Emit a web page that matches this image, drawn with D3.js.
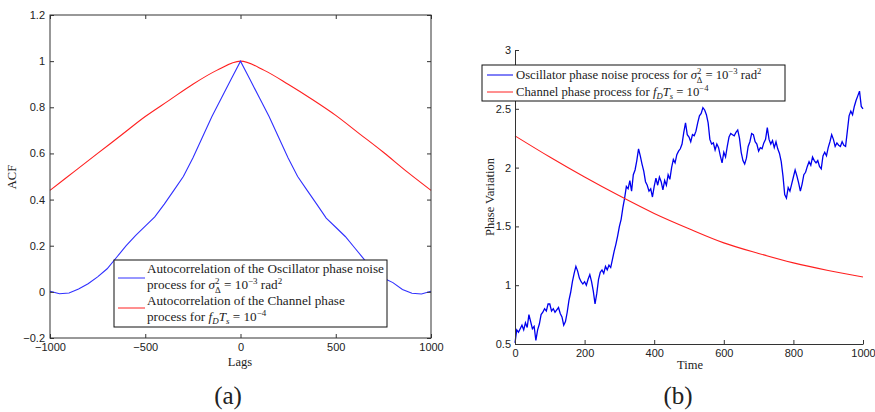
<!DOCTYPE html>
<html>
<head>
<meta charset="utf-8">
<script src="https://cdn.jsdelivr.net/npm/d3@7"></script>
<style>
  body { margin: 0; background: #fff; }
  .tick text { font-family: "Liberation Sans", Arial, sans-serif; font-size: 11px; fill: #222; }
  .tick line, .domain { stroke: #333; }
  .serif { font-family: "Liberation Serif", "Times New Roman", serif; fill: #222; }
</style>
</head>
<body>
<svg id="chart" width="875" height="412"></svg>
<script>
// ---- (a) autocorrelation data ----
const acfLags = [-1000, -950, -900, -850, -800, -750, -700, -650, -600, -550, -500, -450, -400, -350, -300, -250, -200, -150, -100, -50,
  0, 50, 100, 150, 200, 250, 300, 350, 400, 450, 500, 550, 600, 650, 700, 750, 800, 850, 900, 950, 1000];
const oscAcf = [0.003, -0.008, -0.005, 0.012, 0.035, 0.065, 0.10, 0.15, 0.20, 0.245, 0.285, 0.325, 0.38, 0.44, 0.50, 0.58, 0.67, 0.76, 0.84, 0.92,
  1.0, 0.92, 0.84, 0.76, 0.67, 0.58, 0.50, 0.44, 0.38, 0.32, 0.28, 0.24, 0.19, 0.14, 0.095, 0.06, 0.04, 0.01, -0.006, -0.009, 0.003];

const chanLags = [-1000, -875, -750, -625, -500, -375, -250, -125, 0, 125, 250, 375, 500, 625, 750, 875, 1000];
const chanAcf = [0.44, 0.52, 0.60, 0.68, 0.76, 0.83, 0.90, 0.96, 1.0, 0.96, 0.90, 0.835, 0.765, 0.685, 0.605, 0.52, 0.44];

const lagTicks = [-1000, -500, 0, 500, 1000];
const acfTicks = [-0.2, 0, 0.2, 0.4, 0.6, 0.8, 1, 1.2];

// ---- (b) phase variation data ----
const phaseTimes = d3.range(0, 1001, 5);
const oscPhase = [
  0.51, 0.62, 0.60, 0.63, 0.66, 0.62, 0.68, 0.64, 0.75, 0.69, 0.63, 0.65, 0.53, 0.62, 0.67, 0.75, 0.77, 0.80, 0.78, 0.84,
  0.84, 0.78, 0.80, 0.77, 0.79, 0.81, 0.76, 0.73, 0.66, 0.69, 0.77, 0.87, 0.94, 1.03, 1.10, 1.16, 1.12, 1.06, 1.03, 1.01,
  1.03, 1.00, 1.05, 1.09, 1.03, 0.95, 0.84, 0.93, 1.05, 1.11, 1.13, 1.10, 1.16, 1.13, 1.17, 1.15, 1.22, 1.29, 1.35, 1.42,
  1.50, 1.56, 1.66, 1.74, 1.84, 1.82, 1.89, 1.80, 1.94, 1.98, 2.06, 2.16, 2.10, 2.03, 1.97, 1.88, 1.85, 1.80, 1.82, 1.75,
  1.84, 1.91, 1.85, 1.92, 1.88, 1.81, 1.89, 1.85, 1.94, 1.90, 2.00, 2.07, 2.04, 2.11, 2.14, 2.16, 2.20, 2.30, 2.38, 2.28,
  2.26, 2.22, 2.28, 2.27, 2.31, 2.38, 2.44, 2.46, 2.51, 2.49, 2.45, 2.38, 2.24, 2.20, 2.21, 2.15, 2.20, 2.17, 2.10, 2.04,
  2.13, 2.09, 2.18, 2.26, 2.29, 2.28, 2.27, 2.30, 2.32, 2.25, 2.13, 2.06, 2.03, 2.08, 2.18, 2.22, 2.29, 2.28, 2.22, 2.20,
  2.14, 2.17, 2.16, 2.21, 2.24, 2.34, 2.24, 2.20, 2.23, 2.17, 2.22, 2.16, 2.12, 2.05, 1.93, 1.77, 1.74, 1.83, 1.80, 1.86,
  1.92, 1.98, 1.93, 1.87, 1.80, 1.86, 1.94, 1.96, 2.01, 2.05, 2.02, 2.09, 2.06, 2.04, 2.06, 2.01, 1.99, 2.10, 2.13, 2.10,
  2.17, 2.22, 2.28, 2.24, 2.18, 2.21, 2.19, 2.18, 2.22, 2.19, 2.18, 2.31, 2.44, 2.48, 2.45, 2.52, 2.57, 2.61, 2.65, 2.52,
  2.50];

const chanTimes = [0, 100, 200, 300, 400, 500, 600, 700, 800, 900, 1000];
const chanPhase = [2.27, 2.09, 1.92, 1.76, 1.61, 1.48, 1.36, 1.27, 1.19, 1.125, 1.07];

const timeTicks = [0, 200, 400, 600, 800, 1000];
const phaseTicks = [0.5, 1, 1.5, 2, 2.5, 3];

const svg = d3.select("#chart");
// MATLAB style labels: 1, 0.5, −0.2, 1000
const fmt = d => (d < 0 ? "\u2212" : "") + String(Math.abs(d));

// adds one legend line with sigma^2_Delta = 10^-3 rad^2
function sigmaText(g, x, y, prefix) {
  const t = g.append("text").attr("class", "serif").attr("x", x).attr("y", y);
  t.append("tspan").text(prefix);
  t.append("tspan").style("font-style", "italic").text("σ");
  t.append("tspan").attr("dy", -5).style("font-size", "0.68em").text("2");
  t.append("tspan").attr("dx", -4.5).attr("dy", 8.5).style("font-size", "0.68em").text("Δ");
  t.append("tspan").attr("dy", -3.5).text(" = 10");
  t.append("tspan").attr("dy", -5).style("font-size", "0.68em").text("−3");
  t.append("tspan").attr("dy", 5).text(" rad");
  t.append("tspan").attr("dy", -5).style("font-size", "0.68em").text("2");
  return t;
}

// f_D T_s = 10^-4
function fdtsText(g, x, y, prefix) {
  const t = g.append("text").attr("class", "serif").attr("x", x).attr("y", y);
  t.append("tspan").text(prefix);
  t.append("tspan").style("font-style", "italic").text("f");
  t.append("tspan").attr("dy", 3).style("font-size", "0.68em").style("font-style", "italic").text("D");
  t.append("tspan").attr("dy", -3).style("font-style", "italic").text("T");
  t.append("tspan").attr("dy", 3).style("font-size", "0.68em").style("font-style", "italic").text("s");
  t.append("tspan").attr("dy", -3).text(" = 10");
  t.append("tspan").attr("dy", -5).style("font-size", "0.68em").text("−4");
  return t;
}

// size a legend group so its widest line spans the width seen in the figure
function fitLegend(g, first, target) {
  g.style("font-size", "12px");
  const w = first.node().getComputedTextLength();
  g.style("font-size", (12 * target / w).toFixed(2) + "px");
}

/* ---------- (a) ---------- */
const xa = d3.scaleLinear().domain([-1000, 1000]).range([50, 431]);
const ya = d3.scaleLinear().domain([-0.2, 1.2]).range([338, 15]);

const ga = svg.append("g");

ga.append("path")
  .datum(chanLags.map((d, i) => [d, chanAcf[i]]))
  .attr("fill", "none").attr("stroke", "#ff2020").attr("stroke-width", 1.1)
  .attr("d", d3.line().x(d => xa(d[0])).y(d => ya(d[1])).curve(d3.curveMonotoneX));

ga.append("path")
  .datum(acfLags.map((d, i) => [d, oscAcf[i]]))
  .attr("fill", "none").attr("stroke", "#3030ff").attr("stroke-width", 1.1)
  .attr("d", d3.line().x(d => xa(d[0])).y(d => ya(d[1])));

ga.append("g").attr("transform", "translate(0,338)")
  .call(d3.axisBottom(xa).tickValues(lagTicks).tickFormat(fmt).tickSizeInner(-4).tickSizeOuter(0).tickPadding(5))
  .call(g => g.select(".domain").remove());
ga.append("g").attr("transform", "translate(0,15)")
  .call(d3.axisTop(xa).tickValues(lagTicks).tickFormat("").tickSizeInner(-4).tickSizeOuter(0))
  .call(g => g.select(".domain").remove());
ga.append("g").attr("transform", "translate(50,0)")
  .call(d3.axisLeft(ya).tickValues(acfTicks).tickFormat(fmt).tickSizeInner(-4).tickSizeOuter(0).tickPadding(5))
  .call(g => g.select(".domain").remove());
ga.append("g").attr("transform", "translate(431,0)")
  .call(d3.axisRight(ya).tickValues(acfTicks).tickFormat("").tickSizeInner(-4).tickSizeOuter(0))
  .call(g => g.select(".domain").remove());

ga.append("rect").attr("x", 50).attr("y", 15).attr("width", 381).attr("height", 323)
  .attr("fill", "none").attr("stroke", "#333");

// legend (a)
const la = ga.append("g");
la.append("rect").attr("x", 114).attr("y", 260).attr("width", 273).attr("height", 67)
  .attr("fill", "#fff").attr("stroke", "#111");
la.append("line").attr("x1", 118).attr("x2", 145).attr("y1", 278).attr("y2", 278).attr("stroke", "#3030ff");
la.append("line").attr("x1", 118).attr("x2", 145).attr("y1", 308).attr("y2", 308).attr("stroke", "#ff2020");
const laFirst = la.append("text").attr("class", "serif").attr("x", 147).attr("y", 273)
  .text("Autocorrelation of the Oscillator phase noise");
sigmaText(la, 147, 289, "process for ");
la.append("text").attr("class", "serif").attr("x", 147).attr("y", 305)
  .text("Autocorrelation of the Channel phase");
fdtsText(la, 147, 321, "process for ");
fitLegend(la, laFirst, 237);

ga.append("text").attr("class", "serif").attr("x", 240).attr("y", 366)
  .attr("text-anchor", "middle").style("font-size", "12.5px").text("Lags");
ga.append("text").attr("class", "serif").attr("transform", "translate(16,177) rotate(-90)")
  .attr("text-anchor", "middle").style("font-size", "12.5px").text("ACF");
ga.append("text").attr("class", "serif").attr("x", 228).attr("y", 404)
  .attr("text-anchor", "middle").style("font-size", "25px").text("(a)");

/* ---------- (b) ---------- */
const xb = d3.scaleLinear().domain([0, 1000]).range([515, 863]);
const yb = d3.scaleLinear().domain([0.5, 3]).range([344, 50]);

const gb = svg.append("g");

gb.append("path")
  .datum(phaseTimes.map((d, i) => [d, oscPhase[i]]))
  .attr("fill", "none").attr("stroke", "#0000ee").attr("stroke-width", 1.3)
  .attr("d", d3.line().x(d => xb(d[0])).y(d => yb(d[1])));

gb.append("path")
  .datum(chanTimes.map((d, i) => [d, chanPhase[i]]))
  .attr("fill", "none").attr("stroke", "#ff2020").attr("stroke-width", 1.1)
  .attr("d", d3.line().x(d => xb(d[0])).y(d => yb(d[1])).curve(d3.curveMonotoneX));

gb.append("g").attr("transform", "translate(0,344)")
  .call(d3.axisBottom(xb).tickValues(timeTicks).tickFormat(fmt).tickSizeInner(-4).tickSizeOuter(0).tickPadding(5));
gb.append("g").attr("transform", "translate(515,0)")
  .call(d3.axisLeft(yb).tickValues(phaseTicks).tickFormat(fmt).tickSizeInner(-4).tickSizeOuter(0).tickPadding(4));

// legend (b)
const lb = gb.append("g");
lb.append("rect").attr("x", 482).attr("y", 65).attr("width", 303).attr("height", 36)
  .attr("fill", "#fff").attr("stroke", "#111");
lb.append("line").attr("x1", 487).attr("x2", 513).attr("y1", 75).attr("y2", 75).attr("stroke", "#0000ee");
lb.append("line").attr("x1", 487).attr("x2", 513).attr("y1", 92).attr("y2", 92).attr("stroke", "#ff2020");
const lbFirst = sigmaText(lb, 516, 79, "Oscillator phase noise process for ");
fdtsText(lb, 516, 96, "Channel phase process for ");
fitLegend(lb, lbFirst, 250);

gb.append("text").attr("class", "serif").attr("x", 690).attr("y", 369)
  .attr("text-anchor", "middle").style("font-size", "12.5px").text("Time");
gb.append("text").attr("class", "serif").attr("transform", "translate(494,197) rotate(-90)")
  .attr("text-anchor", "middle").style("font-size", "12.5px").text("Phase Variation");
gb.append("text").attr("class", "serif").attr("x", 678).attr("y", 404)
  .attr("text-anchor", "middle").style("font-size", "25px").text("(b)");
</script>
</body>
</html>
